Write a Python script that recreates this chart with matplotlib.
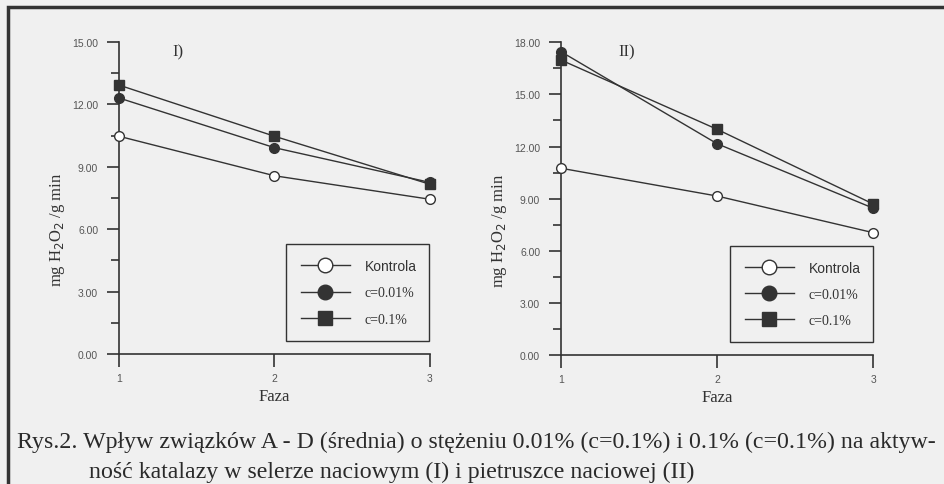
import matplotlib.pyplot as plt
from matplotlib.patches import Rectangle
from matplotlib.ticker import MultipleLocator

faza = [1, 2, 3]

# panel I (seler naciowy)
kontrola_1 = [10.47, 8.57, 7.44]
c001_1 = [12.31, 9.92, 8.25]
c01_1 = [12.93, 10.47, 8.16]

# panel II (pietruszka naciowa)
kontrola_2 = [10.75, 9.15, 7.04]
c001_2 = [17.46, 12.16, 8.45]
c01_2 = [16.98, 12.99, 8.69]

labels = ['Kontrola', 'c=0.01%', 'c=0.1%']
caption = ['Rys.2. Wpływ związków A - D (średnia) o stężeniu 0.01% (c=0.1%) i 0.1% (c=0.1%) na aktyw-',
           'ność katalazy w selerze naciowym (I) i pietruszce naciowej (II)']

bg = '#f0f0f0'
ink = '#333333'
serif = 'Liberation Serif'
sans = 'Liberation Sans'

fig = plt.figure(figsize=(9.45, 4.85), dpi=100, facecolor=bg)


def draw_panel(rect, kon, c1, c2, ymax, step, tag, tag_xy, leg_box):
    ax = fig.add_axes(rect)
    ax.set_facecolor(bg)
    ax.plot(faza, kon, '-o', color=ink, lw=1, ms=7, mfc='white', mec=ink, mew=1, label=labels[0], clip_on=False, zorder=3)
    ax.plot(faza, c1, '-o', color=ink, lw=1, ms=7, mfc=ink, mec=ink, label=labels[1], clip_on=False, zorder=3)
    ax.plot(faza, c2, '-s', color=ink, lw=1, ms=7, mfc=ink, mec=ink, label=labels[2], clip_on=False, zorder=3)
    ax.set_xlim(1, 3)
    ax.set_ylim(0, ymax)
    ax.set_xticks(faza)
    ax.yaxis.set_major_locator(MultipleLocator(step))
    ax.yaxis.set_minor_locator(MultipleLocator(step / 2))
    ax.yaxis.set_major_formatter(lambda v, p: '{:.2f}'.format(v))
    for s in ['top', 'right']:
        ax.spines[s].set_visible(False)
    for s in ['left', 'bottom']:
        ax.spines[s].set_color(ink)
        ax.spines[s].set_linewidth(1.2)
    ax.tick_params(which='major', length=9, width=1.2, color=ink, labelsize=7.5,
                   labelcolor='#555555', pad=5)
    ax.tick_params(which='minor', length=6, width=1.2, color=ink)
    ax.tick_params(axis='y', pad=6)
    for t in ax.get_xticklabels() + ax.get_yticklabels():
        t.set_fontfamily(sans)
    ax.set_xlabel('Faza', fontfamily=serif, fontsize=12, color=ink, labelpad=3)
    ax.set_ylabel('mg H$_2$O$_2$ /g min', fontfamily=serif, fontsize=12, color=ink)
    ax.yaxis.set_label_coords(-0.166, 0.40)
    ax.text(tag_xy[0], tag_xy[1], tag, transform=ax.transAxes, fontfamily=serif,
            fontsize=12, color=ink, ha='center', va='center')
    leg = ax.legend(loc='lower left', bbox_to_anchor=leg_box, mode='expand', markerscale=1.5,
                    frameon=True, fancybox=False, edgecolor=ink, facecolor=bg, framealpha=1,
                    fontsize=10, handlelength=3.5, handletextpad=1.1, labelspacing=0.95,
                    borderpad=1.1, borderaxespad=0)
    leg.get_frame().set_linewidth(1)
    for i, t in enumerate(leg.get_texts()):
        t.set_color(ink)
        t.set_fontfamily(sans if i == 0 else serif)
    return ax


draw_panel([0.1259, 0.268, 0.3291, 0.6433], kontrola_1, c001_1, c01_1, 15, 3, 'I)',
           (0.19, 0.97), (0.536, 0.042, 0.46, 0.315))
draw_panel([0.5937, 0.266, 0.3304, 0.6447], kontrola_2, c001_2, c01_2, 18, 3, 'II)',
           (0.21, 0.97), (0.54, 0.04, 0.46, 0.31))

fig.text(17 / 945, 0.0887, caption[0], fontfamily=serif, fontsize=17.2, color='#2a2a2a',
         ha='left', va='center')
fig.text(89 / 945, 0.0268, caption[1], fontfamily=serif, fontsize=17.2, color='#2a2a2a',
         ha='left', va='center')

fig.patches.append(Rectangle((8 / 945, -0.05), 1.1, (485 - 8) / 485 + 0.05, transform=fig.transFigure,
                             fill=False, edgecolor=ink, lw=2.5, clip_on=False))

fig.savefig('out.png', dpi=100, facecolor=bg)
